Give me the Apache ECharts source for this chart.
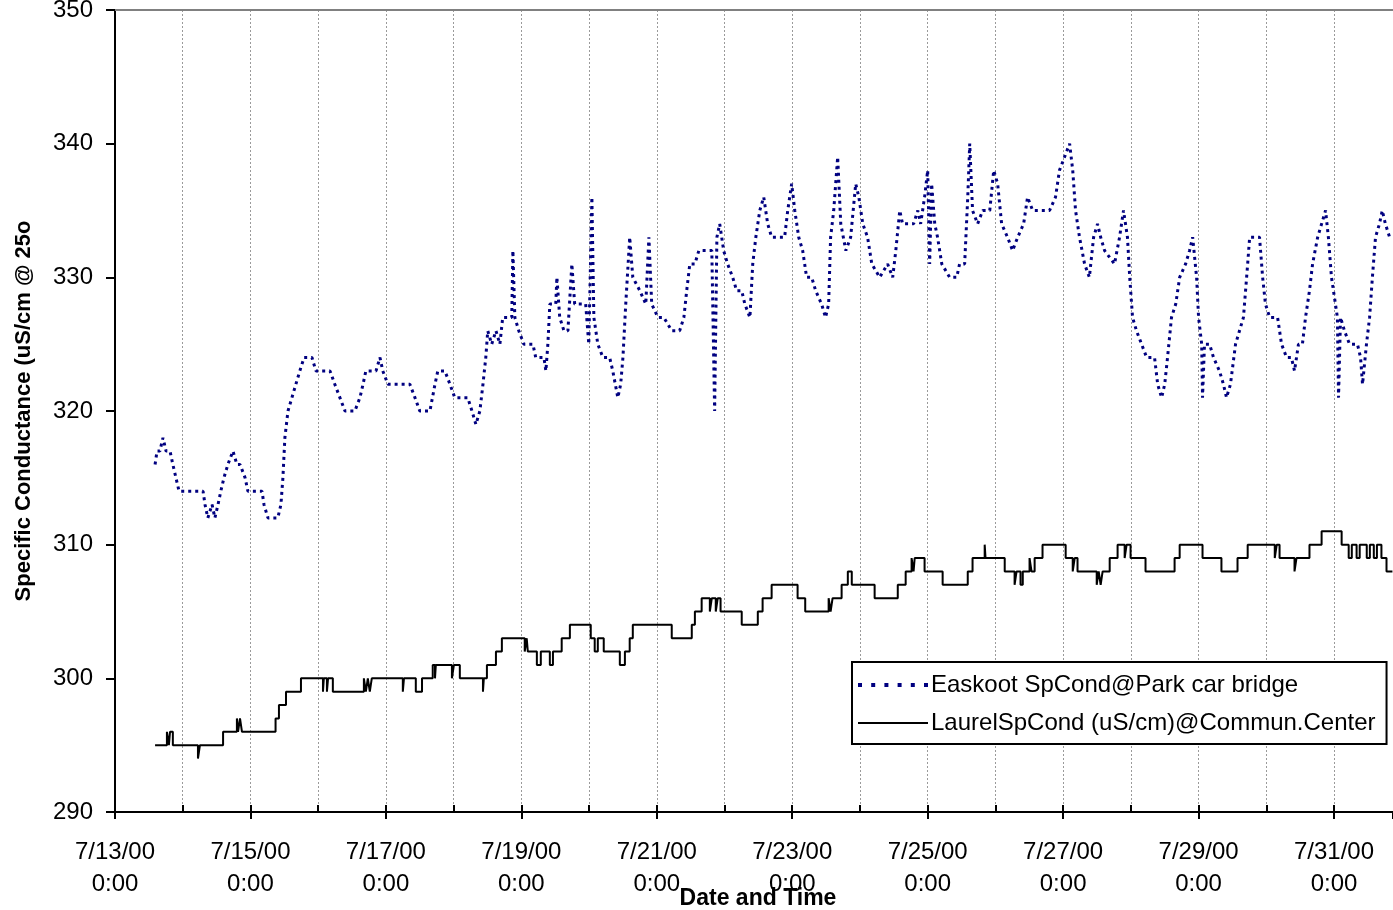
<!DOCTYPE html>
<html><head><meta charset="utf-8">
<script src="https://cdn.jsdelivr.net/npm/echarts@6/dist/echarts.min.js"></script>
<style>html,body{margin:0;padding:0;background:#fff}#c{width:1393px;height:910px}</style>
</head><body><div id="c"></div>
<script>
// Hours after 7/13/00 0:00
const seriesNames = ['Easkoot SpCond@Park car bridge', 'LaurelSpCond (uS/cm)@Commun.Center'];
const xTickLabels = ['7/13/00', '7/15/00', '7/17/00', '7/19/00', '7/21/00', '7/23/00', '7/25/00', '7/27/00', '7/29/00', '7/31/00'];
const yTicks = [290, 300, 310, 320, 330, 340, 350];

const easkootHours = [
  14.2,14.9,15.9,17.0,18.1,19.5,20.5,21.6,22.7,26.6,
  31.2,31.9,32.9,34.4,35.4,36.5,37.5,38.6,40.0,41.8,
  43.2,44.3,46.1,47.1,52.1,52.8,54.2,57.7,58.8,59.5,
  60.2,61.3,62.7,64.1,65.5,67.0,69.8,71.2,76.2,77.9,
  79.7,81.5,85.0,86.8,87.9,88.9,92.5,93.9,94.9,96.7,
  104.5,106.3,108.0,111.6,113.4,114.4,116.9,118.7,120.4,125.0,
  126.5,127.9,129.3,130.4,131.4,132.1,133.5,135.0,136.4,137.4,
  140.6,141.0,141.7,143.1,144.9,148.1,149.1,152.0,152.7,153.4,
  154.1,156.2,156.6,157.6,159.1,160.5,161.9,162.9,166.8,167.9,
  169.0,169.7,171.1,172.9,175.3,176.4,178.2,179.2,180.0,181.0,
  182.4,183.5,186.0,188.1,189.2,190.2,192.4,194.5,197.3,200.1,
  201.6,202.6,203.7,205.5,206.9,211.5,212.5,213.3,214.3,215.7,
  217.1,218.9,220.3,222.1,223.2,225.0,226.0,227.1,228.5,229.9,
  231.3,232.7,237.3,238.4,239.8,240.9,242.3,243.7,245.1,246.9,
  248.3,250.4,251.8,252.9,253.6,254.7,256.1,257.2,259.0,260.7,
  262.5,263.6,265.0,266.7,268.2,271.0,273.8,275.6,276.7,278.1,
  279.1,283.0,284.5,285.5,286.9,288.0,288.7,289.4,290.5,291.5,
  293.0,295.8,298.3,299.3,301.1,302.2,302.9,303.9,305.7,307.5,
  310.0,311.4,312.8,314.2,316.3,318.1,319.9,322.0,323.4,325.2,
  331.2,333.3,334.7,336.5,338.3,339.4,340.4,341.8,343.6,345.3,
  346.8,348.2,349.3,350.7,354.2,356.0,357.4,358.8,359.6,360.6,
  362.0,363.8,365.6,368.4,369.5,370.9,372.0,373.0,374.4,375.9,
  377.3,379.4,380.8,381.9,383.3,384.0,385.1,385.4,386.1,387.9,
  389.3,391.4,392.8,393.9,395.3,397.1,398.5,399.9,401.4,402.1,
  405.6,406.7,407.7,409.2,412.0,413.4,415.2,416.9,418.0,419.4,
  420.8,421.9,423.3,424.4,426.2,427.6,429.0,430.0,431.1,432.5,
  433.2,433.6,434.3,435.7,437.5,440.3,441.4,442.1,443.5,444.6,
  445.6,446.7,448.1,449.1,450.2,451.7
];
const easkootValues = [
  316,317,317,318,317,317,316,315,314,314,
  314,313,312,313,312,313,314,315,316,317,
  316,316,315,314,314,313,312,312,313,315,
  318,320,321,322,323,324,324,323,323,322,
  321,320,320,321,322,323,323,324,323,322,
  322,321,320,320,322,323,323,322,321,321,
  320,319,320,322,324,326,325,326,325,327,
  327,332,327,326,325,325,324,324,323,325,
  328,328,330,327,326,326,331,328,328,325,
  336,327,325,324,324,323,321,322,324,328,
  333,330,329,328,333,328,327,327,326,326,
  327,329,331,331,332,332,320,333,334,332,
  331,330,329,329,328,327,331,333,335,336,
  334,333,333,335,337,335,333,332,330,330,
  329,328,327,328,333,335,339,334,332,333,
  337,336,334,333,331,330,331,330,332,335,
  334,334,335,334,336,338,331,337,334,333,
  331,330,330,331,331,336,340,335,334,335,
  335,338,337,334,333,332,333,334,336,335,
  335,336,338,339,340,338,335,333,331,330,
  333,334,333,332,331,333,335,333,330,327,
  326,325,324,324,322,321,322,324,327,328,
  330,331,332,333,330,327,325,321,325,325,
  324,323,322,321,322,325,326,327,331,333,
  333,330,328,327,327,325,324,324,323,325,
  325,327,329,331,333,334,335,333,330,328,
  327,321,327,326,325,325,324,322,325,327,
  330,333,334,335,334,333
];

// Laurel: hour at which each reading level starts
const laurelHours = [
  14.2,18.4,19.1,19.5,20.5,29.4,30.1,38.3,43.2,43.6,
  44.3,45.0,56.9,58.1,60.6,65.9,73.7,74.0,75.1,75.5,
  77.2,88.2,88.9,89.6,90.3,91.0,102.0,102.4,106.6,108.8,
  112.6,113.4,113.7,119.4,120.1,122.2,130.4,130.7,131.8,135.0,
  137.1,145.2,145.9,146.3,149.5,150.9,154.1,155.2,158.3,161.2,
  168.6,170.0,171.1,173.2,178.9,180.7,182.4,183.5,197.3,204.4,
  205.5,207.9,210.8,211.5,212.9,213.6,214.6,222.1,227.8,229.5,
  232.7,241.9,244.6,252.9,253.6,254.3,257.5,259.7,261.1,269.2,
  277.4,280.2,282.3,283.0,283.4,286.9,293.3,302.2,303.9,308.2,
  308.5,315.3,318.8,319.5,320.9,321.7,324.1,324.8,325.9,328.7,
  336.9,339.4,340.1,341.1,347.9,348.6,349.3,350.0,352.5,355.3,
  357.8,358.5,359.9,365.2,375.5,377.3,385.4,392.1,397.8,401.4,
  411.0,411.7,412.7,418.0,418.7,423.3,427.6,434.7,437.2,438.3,
  440.0,441.1,443.6,444.7,446.1,447.2,448.8,450.6,452.7
];
const laurelValues = [
  295,296,295,296,295,294,295,296,297,296,
  297,296,297,298,299,300,299,300,299,300,
  299,300,299,300,299,300,299,300,299,300,
  301,300,301,300,301,300,299,300,301,302,
  303,302,303,302,301,302,301,302,303,304,
  303,302,303,302,301,302,303,304,303,304,
  305,306,305,306,305,306,305,304,305,306,
  307,306,305,306,305,306,307,308,307,306,
  307,308,309,308,309,308,307,308,309,310,
  309,308,307,308,307,308,309,308,309,310,
  309,308,309,308,307,308,307,308,309,310,
  309,310,309,308,309,310,309,308,309,310,
  309,310,309,308,309,310,311,310,309,310,
  309,310,309,310,309,310,309,308,308
];

const X_MAX = 452.9;
const FONT = '"Liberation Sans", Arial, sans-serif';

const chart = echarts.init(document.getElementById('c'), null, {renderer: 'canvas'});
const easkootData = easkootHours.map((h, i) => [h, easkootValues[i]]);
const laurelData = laurelHours.map((h, i) => [h, laurelValues[i]]);

const dottedIcon = 'path://M0,0h4v4h-4z M13.2,0h4v4h-4z M26.4,0h4v4h-4z M39.6,0h4v4h-4z M52.8,0h4v4h-4z M66,0h4v4h-4z';
const solidIcon = 'path://M0,0h70v2h-70z';

chart.setOption({
  animation: false,
  backgroundColor: '#fff',
  textStyle: {fontFamily: FONT},
  grid: {left: 115, top: 10, right: 0, bottom: 98, containLabel: false, outerBoundsMode: 'none'},
  legend: {
    orient: 'vertical', left: 852, top: 662,
    data: [
      {name: seriesNames[0], icon: dottedIcon},
      {name: seriesNames[1], icon: solidIcon}
    ],
    symbolKeepAspect: true,
    backgroundColor: '#fff', borderColor: '#000', borderWidth: 2, borderRadius: 0,
    padding: [8, 11, 6, 6], itemGap: 8, itemWidth: 70, itemHeight: 14,
    textStyle: {fontSize: 24, color: '#000', fontFamily: FONT, lineHeight: 30, padding: [0, 0, 0, -2]},
    selectedMode: false
  },
  xAxis: [
    {
      type: 'value', min: 0, max: X_MAX, interval: 24, position: 'bottom',
      name: 'Date and Time', nameLocation: 'middle', nameGap: 75, nameMoveOverlap: false,
      nameTextStyle: {fontSize: 23, fontWeight: 'bold', color: '#000', fontFamily: FONT, padding: [0, 0, 0, 8]},
      axisLine: {show: true, lineStyle: {color: '#000', width: 2}},
      axisTick: {show: true, inside: true, length: 7, lineStyle: {color: '#000', width: 2}},
      axisLabel: {
        fontSize: 24, color: '#000', lineHeight: 32, margin: 24, fontFamily: FONT,
        showMaxLabel: false,
        formatter: function (v) {
          const k = Math.round(v / 48);
          if (Math.abs(v - k * 48) > 0.01 || k >= xTickLabels.length) return '';
          return xTickLabels[k] + '\n0:00';
        }
      },
      splitLine: {show: true, lineStyle: {color: '#9a9a9a', width: 1, type: [2, 2]}}
    },
    {
      type: 'value', min: 0, max: X_MAX, interval: 48, position: 'bottom',
      axisLine: {show: false},
      axisTick: {show: true, inside: false, length: 7, lineStyle: {color: '#000', width: 2}},
      axisLabel: {show: false}, splitLine: {show: false}
    },
    {
      type: 'value', min: 0, max: X_MAX, position: 'top',
      axisLine: {show: true, lineStyle: {color: '#808080', width: 2}},
      axisTick: {show: false}, axisLabel: {show: false}, splitLine: {show: false}
    }
  ],
  yAxis: {
    type: 'value', min: yTicks[0], max: yTicks[yTicks.length - 1], interval: 10,
    name: 'Specific Conductance (uS/cm @ 25oC)', nameLocation: 'middle', nameGap: 80,
    nameMoveOverlap: false,
    nameRotate: 90,
    nameTruncate: {maxWidth: 392, ellipsis: ''},
    nameTextStyle: {fontSize: 22, fontWeight: 'bold', color: '#000', fontFamily: FONT},
    axisLine: {show: true, lineStyle: {color: '#000', width: 2}},
    axisTick: {show: true, inside: false, length: 9, lineStyle: {color: '#000', width: 2}},
    axisLabel: {fontSize: 24, color: '#000', margin: 22, fontFamily: FONT},
    splitLine: {show: false}
  },
  series: [
    {
      name: seriesNames[0], type: 'line', data: easkootData, xAxisIndex: 0,
      showSymbol: false, symbol: 'none', smooth: false,
      lineStyle: {color: '#000080', width: 3, type: [3, 4], cap: 'butt'},
      itemStyle: {color: '#000080'}, z: 3
    },
    {
      name: seriesNames[1], type: 'line', data: laurelData, xAxisIndex: 0,
      step: 'end', showSymbol: false, symbol: 'none',
      lineStyle: {color: '#000', width: 2, type: 'solid'},
      itemStyle: {color: '#000'}, z: 2
    }
  ]
});
</script></body></html>
